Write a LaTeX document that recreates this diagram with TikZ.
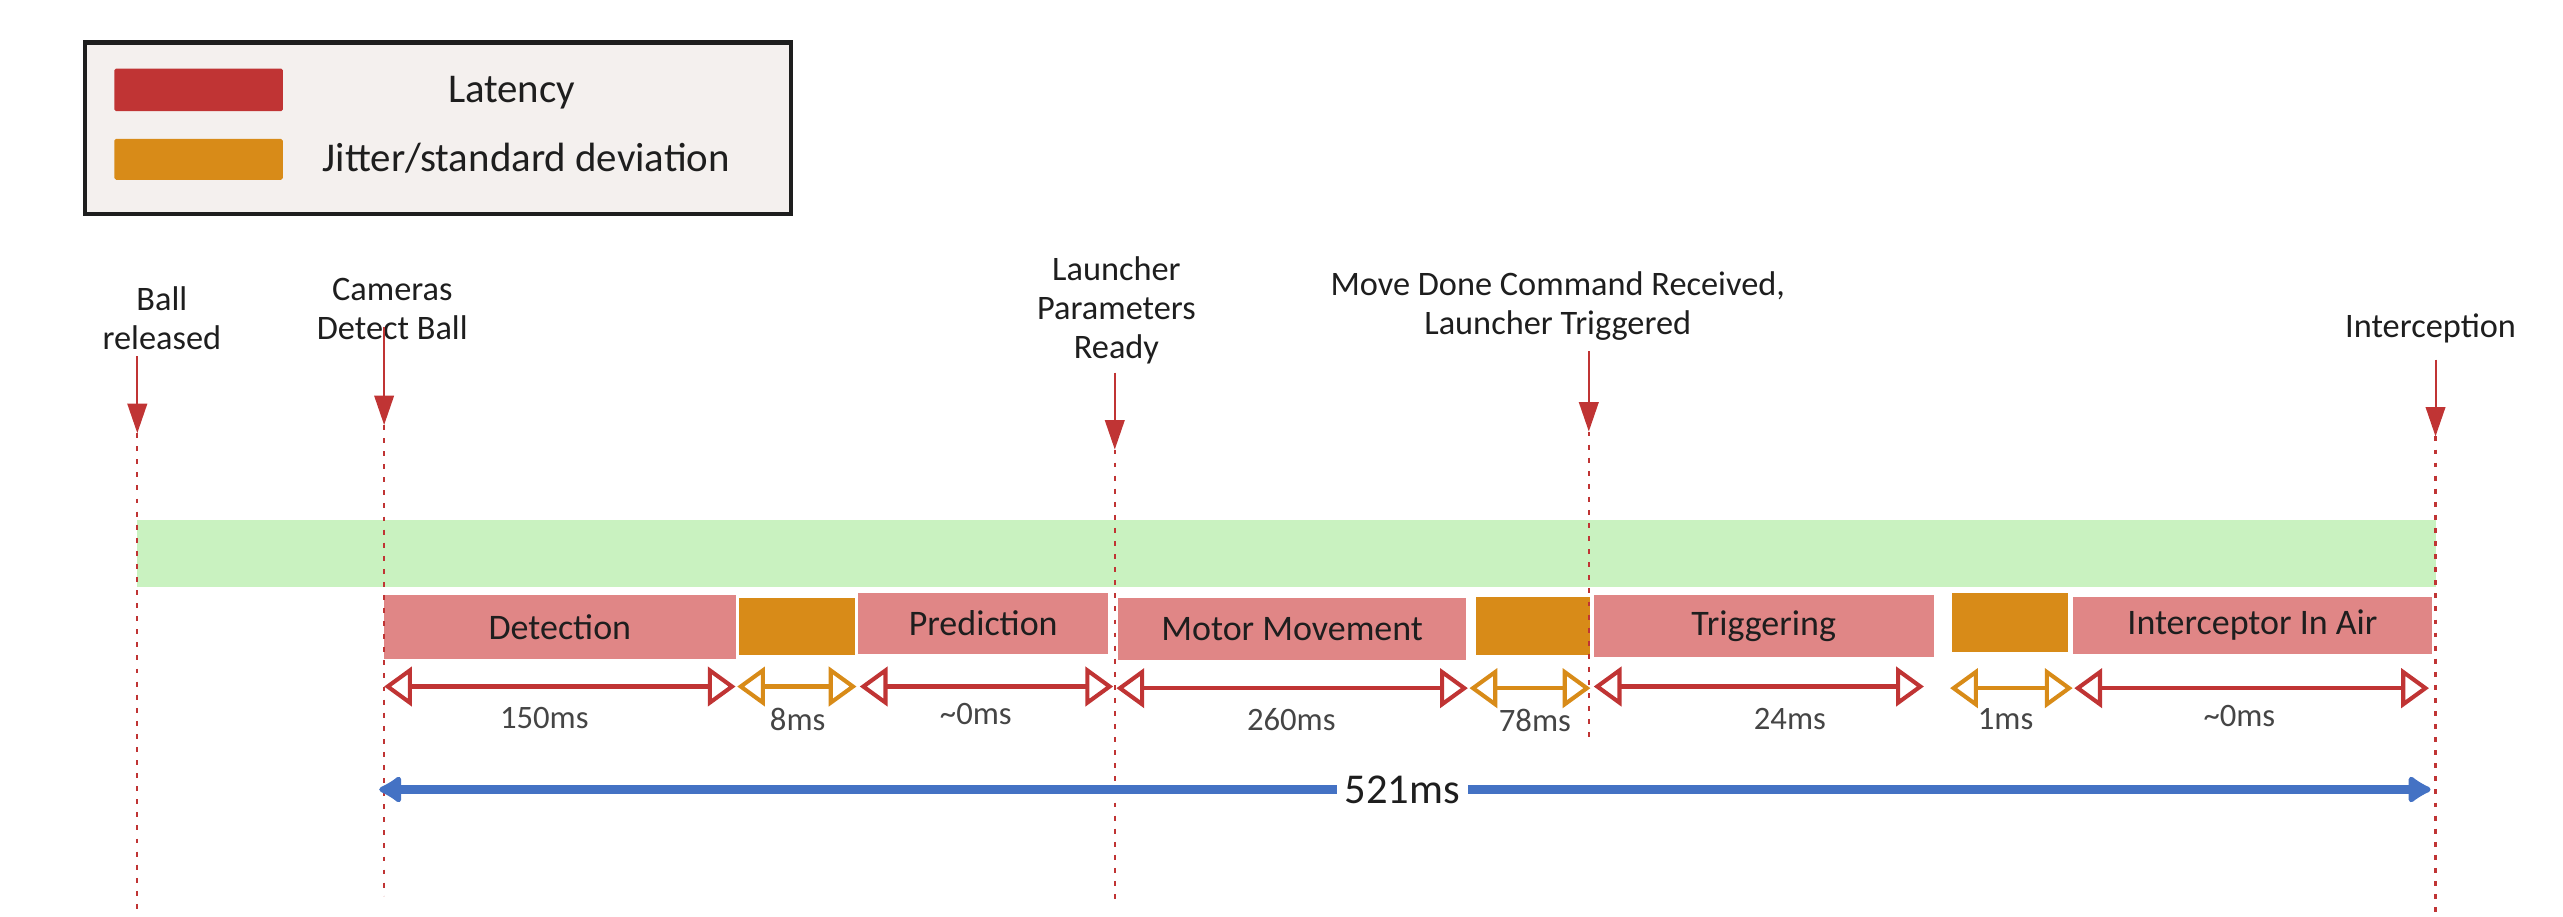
\documentclass[tikz,border=0pt]{standalone}
\usepackage{fontspec}
\setmainfont{Carlito}
\usetikzlibrary{arrows.meta}
\definecolor{latred}{HTML}{C03434}
\definecolor{segred}{HTML}{E08686}
\definecolor{jitter}{HTML}{D88B18}
\definecolor{greenbar}{HTML}{C9F2C0}
\definecolor{blueline}{HTML}{4472C4}
\definecolor{legbg}{HTML}{F4F0EE}
\definecolor{ink}{HTML}{1E1E1E}
\definecolor{dimtext}{HTML}{454545}
\begin{document}
\begin{tikzpicture}[x=1pt,y=-1pt,
  evlabel/.style={font=\fontsize{21}{24}\selectfont, text=ink, align=center, inner sep=0pt},
  evarrow/.style={draw=latred, line width=1.2pt, -{Triangle[length=18pt,width=12pt]}},
  evline/.style={draw=latred, line width=1.3pt, dash pattern=on 3pt off 5pt},
  latbox/.style={fill=segred, draw=none, inner sep=0pt, text=ink, font=\fontsize{22}{26}\selectfont},
  jitbox/.style={fill=jitter, draw=none, inner sep=0pt},
  dimred/.style={draw=latred, line width=2.5pt, {Triangle[open,length=17pt,width=24pt]}-{Triangle[open,length=17pt,width=24pt]}},
  dimorange/.style={draw=jitter, line width=2.5pt, {Triangle[open,length=17pt,width=24pt]}-{Triangle[open,length=17pt,width=24pt]}},
  dimlabel/.style={text=dimtext, font=\fontsize{20}{22}\selectfont, inner sep=0pt},
  swatch/.style={draw=none, rounded corners=1pt},
  legtext/.style={text=ink, font=\fontsize{25}{28}\selectfont, inner sep=0pt}
]
\useasboundingbox (0,0) rectangle (1568,561);

% legend
\node[draw=ink, line width=2.5pt, fill=legbg, minimum width=432pt, minimum height=105pt, inner sep=0pt] (legend) at (268,78.5) {};
\node[swatch, fill=latred, minimum width=103pt, minimum height=26pt, inner sep=0pt] (swred) at (121.5,55) {};
\node[swatch, fill=jitter, minimum width=103pt, minimum height=25pt, inner sep=0pt] (swor) at (121.5,97.5) {};
\node[legtext] (latlbl) at (313,57) {Latency};
\node[legtext] (jitlbl) at (322,97) {Jitter/standard deviation};

% green bar
\node[fill=greenbar, draw=none, minimum width=1406pt, minimum height=41pt, inner sep=0pt] (green) at (787,338.5) {};

% segment boxes
\node[latbox, minimum width=215pt, minimum height=39pt] (det) at (342.5,383.5) {Detection};
\node[jitbox, minimum width=71pt, minimum height=35pt] (j1) at (487.5,383.5) {};
\node[latbox, minimum width=153pt, minimum height=37pt] (pred) at (601.5,381.5) {Prediction};
\node[latbox, minimum width=213pt, minimum height=38pt] (mot) at (790.5,385) {Motor Movement};
\node[jitbox, minimum width=70pt, minimum height=36pt] (j2) at (938,383) {};
\node[latbox, minimum width=208pt, minimum height=38pt] (trig) at (1079,383) {Triggering};
\node[jitbox, minimum width=71pt, minimum height=36pt] (j3) at (1229.5,381) {};
\node[latbox, minimum width=220pt, minimum height=35pt] (air) at (1378,382.5) {Interceptor In Air};

% events
\node[evlabel] (lball) at (99,194.5) {Ball\\released};
\node[evlabel] (lcam) at (240,189) {Cameras\\Detect Ball};
\node[evlabel] (llau) at (683,190) {Launcher\\Parameters\\Ready};
\node[evlabel] (lmove) at (953,187) {Move Done Command Received,\\Launcher Triggered};
\node[evlabel] (lint) at (1487,201) {Interception};

\coordinate (aball) at (84,218);  \coordinate (tball) at (84,265);  \coordinate (bball) at (84,556);
\coordinate (acam) at (235,200);  \coordinate (tcam) at (235,260);  \coordinate (bcam) at (235,548);
\coordinate (alau) at (682,228);  \coordinate (tlau) at (682,275);  \coordinate (blau) at (682,550);
\coordinate (amove) at (972,215); \coordinate (tmove) at (972,264); \coordinate (bmove) at (972,455);
\coordinate (aint) at (1490,220); \coordinate (tint) at (1490,267); \coordinate (bint) at (1490,561);

\foreach \e in {ball,cam,lau,move,int}{
  \draw[evarrow] (a\e) -- (t\e);
  \draw[evline] (t\e) -- (b\e);
}

% dimension arrows
\coordinate (d1a) at (235,420);  \coordinate (d1b) at (450,420);
\coordinate (d2a) at (451,420);  \coordinate (d2b) at (524,420);
\coordinate (d3a) at (526,420);  \coordinate (d3b) at (681,420);
\coordinate (d4a) at (683,421);  \coordinate (d4b) at (898,421);
\coordinate (d5a) at (899,421);  \coordinate (d5b) at (973,421);
\coordinate (d6a) at (975,420);  \coordinate (d6b) at (1177,420);
\coordinate (d7a) at (1193,421); \coordinate (d7b) at (1268,421);
\coordinate (d8a) at (1269,421); \coordinate (d8b) at (1486,421);

\draw[dimred] (d1a) -- (d1b);
\draw[dimorange] (d2a) -- (d2b);
\draw[dimred] (d3a) -- (d3b);
\draw[dimred] (d4a) -- (d4b);
\draw[dimorange] (d5a) -- (d5b);
\draw[dimred] (d6a) -- (d6b);
\draw[dimorange] (d7a) -- (d7b);
\draw[dimred] (d8a) -- (d8b);

\node[dimlabel] (t1) at (333,439) {150ms};
\node[dimlabel] (t2) at (488,440) {8ms};
\node[dimlabel] (t3) at (597,437) {\textasciitilde0ms};
\node[dimlabel] (t4) at (790,440) {260ms};
\node[dimlabel] (t5) at (939,441) {78ms};
\node[dimlabel] (t6) at (1095,440) {24ms};
\node[dimlabel] (t7) at (1227,440) {1ms};
\node[dimlabel] (t8) at (1370,438) {\textasciitilde0ms};

% total
\coordinate (tot1) at (232,483);
\coordinate (tot2) at (1487,483);
\draw[draw=blueline, line width=5.5pt, {Latex[length=16pt,width=20pt,round]}-{Latex[length=16pt,width=20pt,round]}] (tot1) -- (tot2);
\node[fill=white, text=ink, font=\fontsize{26}{30}\selectfont, inner xsep=5pt, inner ysep=2pt] (total) at (858,483) {521ms};
\end{tikzpicture}
\end{document}
